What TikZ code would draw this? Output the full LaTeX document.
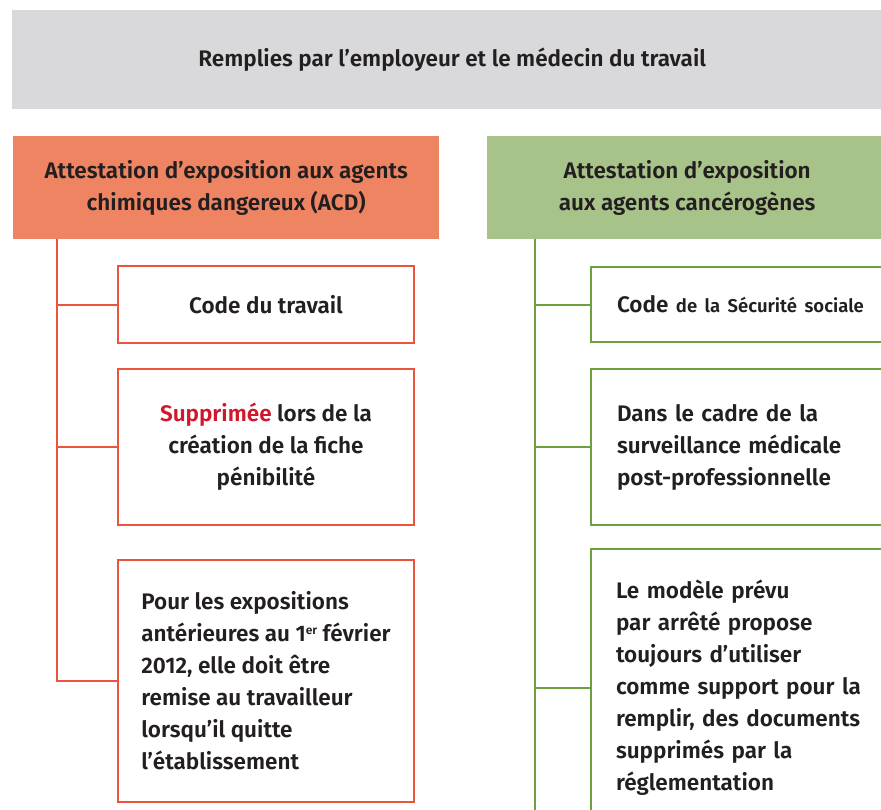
\documentclass[tikz,border=0pt]{standalone}
\usepackage{fontspec}
\setmainfont{Fira Sans}[BoldFont={* SemiBold}]
\usepackage{tikz}
\usetikzlibrary{positioning}

\definecolor{grisfond}{HTML}{D9D9DB}
\definecolor{orfond}{HTML}{EE8462}
\definecolor{ortrait}{HTML}{E8553A}
\definecolor{vefond}{HTML}{A8C389}
\definecolor{vetrait}{HTML}{6FA040}
\definecolor{rouge}{HTML}{D0172B}
\definecolor{encre}{HTML}{231F20}

\newcommand{\exposant}[1]{\raisebox{7pt}{\fontsize{12}{12}\selectfont #1}}

\tikzset{
    texte/.style={font=\bfseries\fontsize{22.5}{32}\selectfont, text=encre},
    bandeau/.style={texte, fill=grisfond, anchor=north west, minimum width=880, minimum height=99},
    entete/.style={texte, anchor=north west, align=center, minimum height=103, inner sep=0pt},
    boite/.style={texte, draw, fill=white, line width=2pt, anchor=north west},
    lien/.style={line width=2pt}
}

\begin{document}
\begin{tikzpicture}[x=1pt, y=-1pt]
    \useasboundingbox (0,0) rectangle (881,809);

    \node[bandeau] (titre) at (12,10) {Remplies par l’employeur et le médecin du travail};

    \node[entete, fill=orfond, minimum width=426] (acd) at (13,136)
        {Attestation d’exposition aux agents\\chimiques dangereux (ACD)};
    \node[entete, fill=vefond, minimum width=400] (canc) at (487,136)
        {Attestation d’exposition\\aux agents cancérogènes};

    \node[boite, draw=ortrait, minimum width=296, minimum height=77] (codetrav) at (117,265)
        {Code du travail};
    \node[boite, draw=ortrait, minimum width=296, minimum height=156, align=center] (suppr) at (117,368)
        {\textcolor{rouge}{Supprimée} lors de la\\création de la fiche\\pénibilité};
    \node[boite, draw=ortrait, minimum width=296, minimum height=242, align=left] (anterieur) at (117,559)
        {Pour les expositions\\antérieures au 1\exposant{er} février\\2012, elle doit être\\remise au travailleur\\lorsqu’il quitte\\l’établissement};

    \node[boite, draw=vetrait, minimum height=75, text width=260, align=left, inner xsep=26pt] (codesecu) at (590,266)
        {Code {\fontsize{18.5}{32}\selectfont de la Sécurité sociale}};
    \node[boite, draw=vetrait, minimum height=156, text width=260, align=left, inner xsep=26pt] (suivi) at (590,368)
        {Dans le cadre de la\\surveillance médicale\\post-professionnelle};
    \node[boite, draw=vetrait, minimum height=278, text width=260, align=left, inner xsep=25pt] (modele) at (590,548)
        {Le modèle prévu\\par arrêté propose\\toujours d’utiliser\\comme support pour la\\remplir, des documents\\supprimés par la\\réglementation};

    \coordinate (acdpied) at (57,239);
    \coordinate (cancpied) at (535,239);
    \coordinate (cancbas) at (535,815);

    \draw[lien, ortrait] (acdpied) |- (anterieur.west);
    \draw[lien, ortrait] (codetrav.west) -- (codetrav.west -| acdpied);
    \draw[lien, ortrait] (suppr.west) -- (suppr.west -| acdpied);

    \draw[lien, vetrait] (cancpied) -- (cancbas);
    \draw[lien, vetrait] (codesecu.west) -- (codesecu.west -| cancpied);
    \draw[lien, vetrait] (suivi.west) -- (suivi.west -| cancpied);
    \draw[lien, vetrait] (modele.west) -- (modele.west -| cancpied);
\end{tikzpicture}
\end{document}
